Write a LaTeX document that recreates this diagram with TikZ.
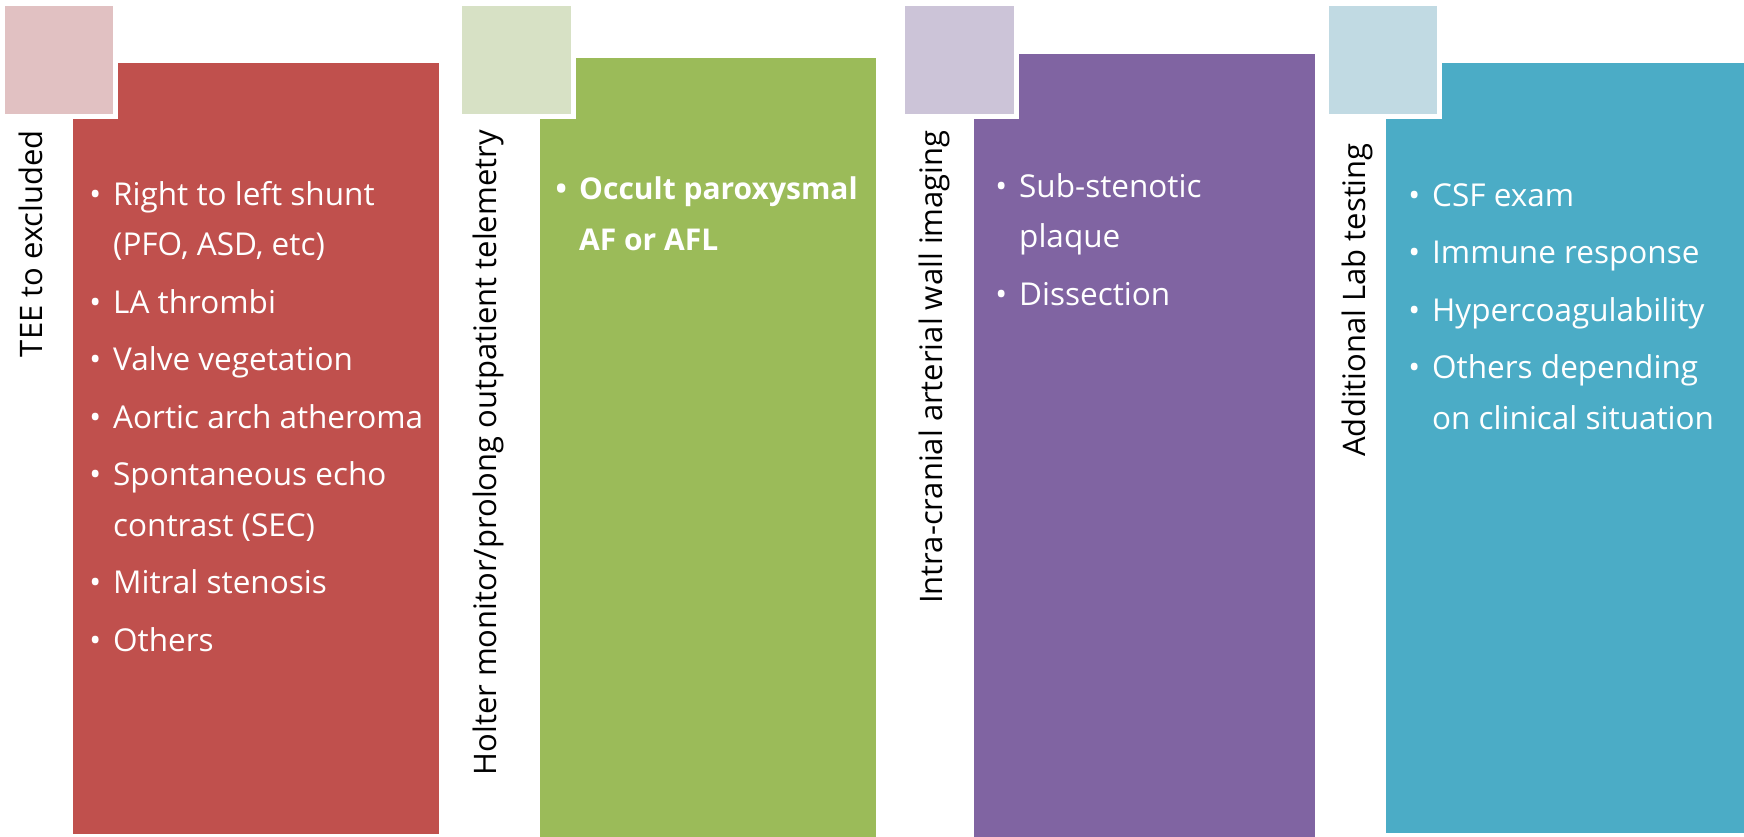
\documentclass[tikz,border=0pt]{standalone}
\usepackage{fontspec}
\setmainfont{Open Sans}
\definecolor{redbar}{HTML}{C0504D}
\definecolor{redtag}{HTML}{E1C1C2}
\definecolor{greenbar}{HTML}{9BBB59}
\definecolor{greentag}{HTML}{D7E1C5}
\definecolor{purplebar}{HTML}{8064A2}
\definecolor{purpletag}{HTML}{CCC4D8}
\definecolor{bluebar}{HTML}{4BACC6}
\definecolor{bluetag}{HTML}{C1DAE3}
\newcommand{\bul}{\makebox[36pt][c]{\textbullet}}
\newcommand{\cont}{\hspace*{36pt}}
\newcommand{\itemlist}[1]{\parbox[t]{360pt}{\raggedright #1}}
\tikzset{
  barfill/.style={fill=#1},
  tagbox/.style={fill=#1,draw=white,line width=5pt},
  items/.style={anchor=base west,inner sep=0pt,text=white,
    font=\fontsize{31.5}{50.5}\selectfont},
  lbl/.style={rotate=90,anchor=base east,inner sep=0pt,
    font=\fontsize{31}{37}\selectfont}
}
\begin{document}
\begin{tikzpicture}[x=1pt,y=-1pt]
   \useasboundingbox (0,0) rectangle (1744,837);
   % red column
   \fill[barfill=redbar] (73,63) rectangle (439,834);
   \filldraw[tagbox=redtag] (2.5,3.5) rectangle (115.5,116.5);
   \node[lbl] (teeLbl) at (42,130) {TEE to excluded};
   \node[items] (teeList) at (77,205) {\itemlist{\bul Right to left shunt\\
      \cont(PFO, ASD, etc)\\[7pt]
      \bul LA thrombi\\[7pt]
      \bul Valve vegetation\\[7pt]
      \bul Aortic arch atheroma\\[7pt]
      \bul Spontaneous echo\\
      \cont contrast (SEC)\\[7pt]
      \bul Mitral stenosis\\[7pt]
      \bul Others}};
   % green column
   \fill[barfill=greenbar] (540,58) rectangle (876,837);
   \filldraw[tagbox=greentag] (459.5,3.5) rectangle (573.5,116.5);
   \node[lbl] (holterLbl) at (496,130) {Holter monitor/prolong outpatient telemetry};
   \node[items,font=\fontsize{30}{50.5}\selectfont\bfseries] (holterList) at (543,200)
      {\itemlist{\bul Occult paroxysmal\\ \cont AF or AFL}};
   % purple column
   \fill[barfill=purplebar] (974,54) rectangle (1315,837);
   \filldraw[tagbox=purpletag] (902.5,3.5) rectangle (1016.5,116.5);
   \node[lbl] (wallLbl) at (942,130) {Intra-cranial arterial wall imaging};
   \node[items] (wallList) at (983,197) {\itemlist{\bul Sub-stenotic\\
      \cont plaque\\[7pt]
      \bul Dissection}};
   % blue column
   \fill[barfill=bluebar] (1386,63) rectangle (1744,833);
   \filldraw[tagbox=bluetag] (1326.5,3.5) rectangle (1439.5,116.5);
   \node[lbl] (labLbl) at (1365,143) {Additional Lab testing};
   \node[items] (labList) at (1396,206) {\itemlist{\bul CSF exam\\[7pt]
      \bul Immune response\\[7pt]
      \bul Hypercoagulability\\[7pt]
      \bul Others depending\\
      \cont on clinical situation}};
\end{tikzpicture}
\end{document}
